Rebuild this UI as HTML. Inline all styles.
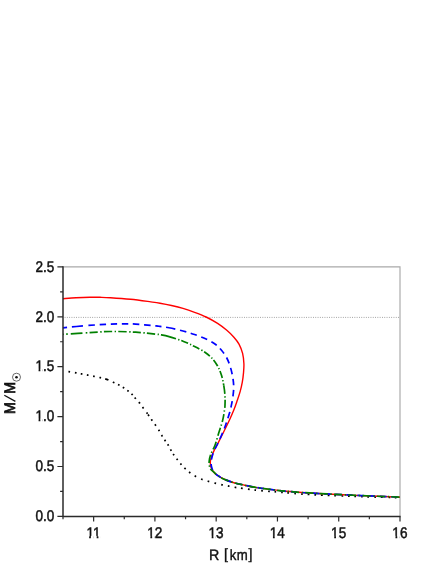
<!DOCTYPE html>
<html><head><meta charset="utf-8"><title>M-R</title>
<style>html,body{margin:0;padding:0;background:#fff}body{width:436px;height:564px;overflow:hidden;font-family:"Liberation Sans",sans-serif}</style></head>
<body>
<svg width="436" height="564" viewBox="0 0 436 564" style="display:block;will-change:transform">
<rect width="436" height="564" fill="#fff"/>
<path d="M63.00,266.90 H400.00 V516.40" fill="none" stroke="#a9a9a9" stroke-width="1.15"/>
<line x1="64.60" y1="317.4" x2="400.00" y2="317.4" stroke="#8e8e8e" stroke-width="0.9" stroke-dasharray="0.9 1.4"/>
<path d="M63.00,370.80 C63.97,370.93 66.78,371.30 68.80,371.60 C70.82,371.90 73.00,372.22 75.10,372.60 C77.20,372.98 79.30,373.48 81.40,373.90 C83.50,374.32 85.58,374.68 87.70,375.10 C89.82,375.52 91.98,375.97 94.10,376.40 C96.22,376.83 98.30,377.20 100.40,377.70 C102.50,378.20 104.60,378.65 106.70,379.40 C108.80,380.15 111.03,381.32 113.00,382.20 C114.97,383.08 116.73,383.78 118.50,384.70 C120.27,385.62 122.00,386.65 123.60,387.70 C125.20,388.75 126.63,389.85 128.10,391.00 C129.57,392.15 131.13,393.33 132.40,394.60 C133.67,395.87 134.52,397.22 135.70,398.60 C136.88,399.98 138.25,401.35 139.50,402.90 C140.75,404.45 141.78,405.98 143.20,407.90 C144.62,409.82 146.65,412.50 148.00,414.40 C149.35,416.30 150.07,417.53 151.30,419.30 C152.53,421.07 154.13,423.17 155.40,425.00 C156.67,426.83 157.82,428.53 158.90,430.30 C159.98,432.07 160.85,433.87 161.90,435.60 C162.95,437.33 164.13,439.10 165.20,440.70 C166.27,442.30 167.33,443.60 168.30,445.20 C169.27,446.80 170.03,448.62 171.00,450.30 C171.97,451.98 173.05,453.75 174.10,455.30 C175.15,456.85 176.17,458.13 177.30,459.60 C178.43,461.07 179.63,462.63 180.90,464.10 C182.17,465.57 183.43,467.00 184.90,468.40 C186.37,469.80 187.93,471.18 189.70,472.50 C191.47,473.82 193.48,475.17 195.50,476.30 C197.52,477.43 199.70,478.47 201.80,479.30 C203.90,480.13 205.92,480.67 208.10,481.30 C210.28,481.93 212.58,482.52 214.90,483.10 C217.22,483.68 219.68,484.30 222.00,484.80 C224.32,485.30 226.57,485.67 228.80,486.10 C231.03,486.53 233.17,487.03 235.40,487.40 C237.63,487.77 238.85,487.85 242.20,488.30 C245.55,488.75 251.05,489.60 255.50,490.10 C259.95,490.60 264.60,490.93 268.90,491.30 C273.20,491.67 276.83,491.92 281.30,492.30 C285.77,492.68 291.23,493.25 295.70,493.60 C300.17,493.95 303.62,494.13 308.10,494.40 C312.58,494.67 313.78,494.83 322.60,495.20 C331.42,495.57 348.10,496.18 361.00,496.60 C373.90,497.02 393.50,497.52 400.00,497.70" fill="none" stroke="#000" stroke-width="1.7" stroke-dasharray="0.00 5.47 1.70 4.86 1.70 4.25 1.70 4.55 1.70 4.67 1.70 4.73 1.70 4.32 3.39 4.82 1.70 4.00 1.70 3.78 1.70 3.89 1.70 3.65 1.70 3.22 1.70 4.56 1.70 4.49 1.70 4.85 1.70 0.84 1.70 4.20 1.70 4.49 1.70 4.81 1.70 4.39 1.70 3.93 1.70 3.78 1.70 4.06 1.70 3.62 1.70 4.24 1.70 4.34 1.70 4.33 1.70 4.46 1.70 5.06 1.70 5.46 1.70 5.25 1.70 5.35 1.70 5.24 1.70 5.05 1.70 5.20 1.70 4.91 1.70 5.21 1.70 4.73 1.70 5.09 1.70 5.31 1.70 4.76 1.70 4.96 1.70 4.48 1.70 5.22 1.70 5.19 1.70 4.85 1.70 5.20 1.70 4.94 1.70 5.09 1.70 4.79 1.70 5.43 1.70 4.64 1.70 4.60 1.70 5.30 1.70 4.61 1.70 5.04 1.70 5.08 1.70 5.72 1.70 4.58 1.70 1000.00"/>
<path d="M63.00,298.70 C65.17,298.54 71.50,297.99 76.00,297.75 C80.50,297.51 86.00,297.32 90.00,297.25 C94.00,297.18 96.58,297.23 100.00,297.30 C103.42,297.38 105.40,297.37 110.50,297.70 C115.60,298.03 123.88,298.61 130.60,299.30 C137.32,299.99 145.90,301.20 150.80,301.85 C155.70,302.50 156.55,302.59 160.00,303.20 C163.45,303.81 167.67,304.63 171.50,305.50 C175.33,306.37 179.15,307.27 183.00,308.40 C186.85,309.53 190.75,310.87 194.60,312.30 C198.45,313.73 202.27,315.15 206.10,317.00 C209.93,318.85 214.15,321.18 217.60,323.40 C221.05,325.62 224.08,328.00 226.80,330.30 C229.52,332.60 231.87,334.90 233.90,337.20 C235.93,339.50 237.55,341.40 239.00,344.10 C240.45,346.80 241.78,350.13 242.60,353.40 C243.42,356.67 243.75,360.45 243.90,363.70 C244.05,366.95 243.77,369.82 243.50,372.90 C243.23,375.98 242.85,379.12 242.30,382.20 C241.75,385.28 241.05,388.33 240.20,391.40 C239.35,394.47 238.25,397.53 237.20,400.60 C236.15,403.67 235.15,406.65 233.90,409.80 C232.65,412.95 231.35,415.92 229.70,419.50 C228.05,423.08 225.90,427.45 224.00,431.30 C222.10,435.15 220.00,439.30 218.30,442.60 C216.60,445.90 215.02,448.50 213.80,451.10 C212.58,453.70 211.58,456.30 211.00,458.20 C210.42,460.10 210.32,461.08 210.30,462.50 C210.28,463.92 210.38,465.17 210.90,466.70 C211.42,468.23 212.27,470.23 213.40,471.70 C214.53,473.17 215.80,474.20 217.70,475.50 C219.60,476.80 221.97,478.25 224.80,479.50 C227.63,480.75 231.40,482.05 234.70,483.00 C238.00,483.95 241.28,484.50 244.60,485.20 C247.92,485.90 251.93,486.72 254.60,487.20 C257.27,487.68 256.15,487.50 260.60,488.10 C265.05,488.70 274.42,490.07 281.30,490.80 C288.18,491.53 293.78,491.95 301.90,492.50 C310.02,493.05 320.10,493.58 330.00,494.10 C339.90,494.62 349.63,495.10 361.30,495.60 C372.97,496.10 393.55,496.85 400.00,497.10" fill="none" stroke="#ff0000" stroke-width="1.4"/>
<path d="M63.00,327.80 C66.70,327.45 78.13,326.27 85.20,325.70 C92.27,325.13 99.52,324.70 105.40,324.40 C111.28,324.10 115.45,323.95 120.50,323.90 C125.55,323.85 129.80,323.77 135.70,324.10 C141.60,324.43 151.85,325.52 155.90,325.90 C159.95,326.28 157.82,326.09 160.00,326.40 C162.18,326.71 165.17,326.98 169.00,327.75" fill="none" stroke="#0000ff" stroke-width="1.7" stroke-dasharray="4.1 4.9 10.9 5.6 6.5 4.65 6.5 4.65 6.5 4.65 6.5 4.65 6.5 4.65 6.5 4.65 6.5 4.65 6.5 4.65 6.5 4.65 6.5 4.65 6.5 4.65 6.5 4.65 6.5 4.65 6.5 4.65 6.5 4.65 6.5 4.65 6.5 4.65 6.5 4.65 6.5 4.65 6.5 4.65 6.5 4.65 6.5 4.65 6.5 4.65 6.5 4.65 6.5 4.65 6.5 4.65 6.5 4.65 6.5 4.65 6.5 4.65 6.5 4.65 6.5 4.65 6.5 4.65 6.5 4.65 6.5 4.65 6.5 4.65 6.5 4.65 6.5 4.65 6.5 4.65 6.5 4.65 6.5 4.65"/>
<path d="M169.00,327.75 C172.83,328.52 178.73,329.88 183.00,331.00 C187.27,332.12 190.75,333.15 194.60,334.50 C198.45,335.85 202.65,337.47 206.10,339.10 C209.55,340.73 212.73,342.43 215.30,344.30 C217.87,346.17 219.58,348.02 221.50,350.30 C223.42,352.58 225.32,355.18 226.80,358.00 C228.28,360.82 229.40,363.93 230.40,367.20 C231.40,370.47 232.25,374.33 232.80,377.60 C233.35,380.87 233.67,383.73 233.70,386.80 C233.73,389.87 233.38,392.93 233.00,396.00 C232.62,399.07 231.98,402.37 231.40,405.20 C230.82,408.03 230.22,410.45 229.50,413.00 C228.78,415.55 227.87,418.17 227.10,420.50 C226.33,422.83 225.88,424.42 224.90,427.00 C223.92,429.58 222.47,433.08 221.20,436.00 C219.93,438.92 218.52,441.98 217.30,444.50 C216.08,447.02 214.83,448.82 213.90,451.10 C212.97,453.38 212.17,456.30 211.70,458.20 C211.23,460.10 211.13,461.08 211.10,462.50 C211.07,463.92 211.12,465.17 211.50,466.70 C211.88,468.23 212.37,470.23 213.40,471.70 C214.43,473.17 215.80,474.20 217.70,475.50 C219.60,476.80 221.97,478.25 224.80,479.50 C227.63,480.75 231.40,482.05 234.70,483.00 C238.00,483.95 241.28,484.50 244.60,485.20 C247.92,485.90 251.93,486.72 254.60,487.20 C257.27,487.68 256.15,487.50 260.60,488.10 C265.05,488.70 274.42,490.07 281.30,490.80 C288.18,491.53 293.78,491.95 301.90,492.50 C310.02,493.05 320.10,493.58 330.00,494.10 C339.90,494.62 349.63,495.10 361.30,495.60 C372.97,496.10 393.55,496.85 400.00,497.10" fill="none" stroke="#0000ff" stroke-width="1.7" stroke-dasharray="6.5 4.65 6.5 4.65 6.5 4.65 6.5 4.65 6.5 4.65 6.5 4.65 6.5 4.65 6.5 4.65 6.5 4.65 6.5 4.65 6.5 4.65 6.5 4.65 6.5 4.65 6.5 4.65 6.5 4.65 6.5 4.65 6.5 4.65 6.5 4.65 6.5 4.65 6.5 4.65 6.5 4.65 6.5 4.65 6.5 4.65 6.5 4.65 6.5 4.65 6.5 4.65 6.5 4.65 6.5 4.65 6.5 4.65 6.5 4.65 6.5 4.65 6.5 4.65 6.5 4.65 6.5 4.65 6.5 4.65 6.5 4.65 6.5 4.65 6.5 4.65 6.5 4.65 6.5 4.65"/>
<path d="M63.00,334.30 C66.70,334.07 77.37,333.37 85.20,332.90 C93.03,332.43 101.58,331.62 110.00,331.50 C118.42,331.38 128.05,331.75 135.70,332.20 C143.35,332.65 151.85,333.78 155.90,334.20 C159.95,334.62 157.82,334.30 160.00,334.70 C162.18,335.10 165.17,335.52 169.00,336.60" fill="none" stroke="#008000" stroke-width="1.7" stroke-dasharray="1 2.3 1.7 2.9 11.5 3.4 1.7 2.3 8.2 2.5 1.4 2.2 8.2 2.5 1.4 2.2 8.2 2.5 1.4 2.2 8.2 2.5 1.4 2.2 8.2 2.5 1.4 2.2 8.2 2.5 1.4 2.2 8.2 2.5 1.4 2.2 8.2 2.5 1.4 2.2 8.2 2.5 1.4 2.2 8.2 2.5 1.4 2.2 8.2 2.5 1.4 2.2 8.2 2.5 1.4 2.2 8.2 2.5 1.4 2.2 8.2 2.5 1.4 2.2 8.2 2.5 1.4 2.2 8.2 2.5 1.4 2.2 8.2 2.5 1.4 2.2 8.2 2.5 1.4 2.2 8.2 2.5 1.4 2.2 8.2 2.5 1.4 2.2 8.2 2.5 1.4 2.2 8.2 2.5 1.4 2.2 8.2 2.5 1.4 2.2 8.2 2.5 1.4 2.2 8.2 2.5 1.4 2.2 8.2 2.5 1.4 2.2 8.2 2.5 1.4 2.2 8.2 2.5 1.4 2.2 8.2 2.5 1.4 2.2 8.2 2.5 1.4 2.2 8.2 2.5 1.4 2.2 8.2 2.5 1.4 2.2 8.2 2.5 1.4 2.2 8.2 2.5 1.4 2.2 8.2 2.5 1.4 2.2 8.2 2.5 1.4 2.2 8.2 2.5 1.4 2.2 8.2 2.5 1.4 2.2 8.2 2.5 1.4 2.2 8.2 2.5 1.4 2.2"/>
<path d="M169.00,336.60 C172.83,337.68 178.73,339.55 183.00,341.20 C187.27,342.85 190.95,344.67 194.60,346.50 C198.25,348.33 202.03,350.28 204.90,352.20 C207.77,354.12 209.68,355.70 211.80,358.00 C213.92,360.30 215.98,363.12 217.60,366.00 C219.22,368.88 220.47,372.03 221.50,375.30 C222.53,378.57 223.22,382.15 223.80,385.60" fill="none" stroke="#008000" stroke-width="1.7" stroke-dasharray="7.3 2.2 1.3 1.95 7.3 2.2 1.3 1.95 7.3 2.2 1.3 1.95 7.3 2.2 1.3 1.95 7.3 2.2 1.3 1.95 7.3 2.2 1.3 1.95 7.3 2.2 1.3 1.95 7.3 2.2 1.3 1.95 7.3 2.2 1.3 1.95 7.3 2.2 1.3 1.95"/>
<path d="M223.80,385.60 C224.38,389.05 224.80,392.73 225.00,396.00 C225.20,399.27 225.08,402.87 225.00,405.20 C224.92,407.53 224.80,407.88 224.50,410.00 C224.20,412.12 223.68,415.57 223.20,417.90 C222.72,420.23 222.40,421.30 221.60,424.00 C220.80,426.70 219.52,430.52 218.40,434.10 C217.28,437.68 216.15,442.18 214.90,445.50 C213.65,448.82 211.85,451.42 210.90,454.00 C209.95,456.58 209.43,459.00 209.20,461.00 C208.97,463.00 209.20,464.58 209.50,466.00 C209.80,467.42 210.35,468.55 211.00,469.50 C211.65,470.45 212.28,470.70 213.40,471.70 C214.52,472.70 215.80,474.20 217.70,475.50 C219.60,476.80 221.97,478.25 224.80,479.50 C227.63,480.75 231.40,482.05 234.70,483.00 C238.00,483.95 241.28,484.50 244.60,485.20 C247.92,485.90 251.93,486.72 254.60,487.20 C257.27,487.68 256.15,487.50 260.60,488.10 C265.05,488.70 274.42,490.07 281.30,490.80 C288.18,491.53 293.78,491.95 301.90,492.50 C310.02,493.05 320.10,493.58 330.00,494.10 C339.90,494.62 349.63,495.10 361.30,495.60 C372.97,496.10 393.55,496.85 400.00,497.10" fill="none" stroke="#008000" stroke-width="1.7" stroke-dasharray="8.2 2.5 1.4 2.2 8.2 2.5 1.4 2.2 8.2 2.5 1.4 2.2 8.2 2.5 1.4 2.2 8.2 2.5 1.4 2.2 8.2 2.5 1.4 2.2 8.2 2.5 1.4 2.2 8.2 2.5 1.4 2.2 8.2 2.5 1.4 2.2 8.2 2.5 1.4 2.2 8.2 2.5 1.4 2.2 8.2 2.5 1.4 2.2 8.2 2.5 1.4 2.2 8.2 2.5 1.4 2.2 8.2 2.5 1.4 2.2 8.2 2.5 1.4 2.2 8.2 2.5 1.4 2.2 8.2 2.5 1.4 2.2 8.2 2.5 1.4 2.2 8.2 2.5 1.4 2.2 8.2 2.5 1.4 2.2 8.2 2.5 1.4 2.2 8.2 2.5 1.4 2.2 8.2 2.5 1.4 2.2 8.2 2.5 1.4 2.2 8.2 2.5 1.4 2.2 8.2 2.5 1.4 2.2 8.2 2.5 1.4 2.2 8.2 2.5 1.4 2.2 8.2 2.5 1.4 2.2 8.2 2.5 1.4 2.2 8.2 2.5 1.4 2.2 8.2 2.5 1.4 2.2 8.2 2.5 1.4 2.2 8.2 2.5 1.4 2.2 8.2 2.5 1.4 2.2 8.2 2.5 1.4 2.2 8.2 2.5 1.4 2.2 8.2 2.5 1.4 2.2 8.2 2.5 1.4 2.2"/>
<path d="M63.00,266.30 V516.40 H400.60" fill="none" stroke="#2b2b2b" stroke-width="1.5"/>
<path d="M63.00,516.40 h-5.60 M63.00,491.45 h-2.90 M63.00,466.50 h-5.60 M63.00,441.55 h-2.90 M63.00,416.60 h-5.60 M63.00,391.65 h-2.90 M63.00,366.70 h-5.60 M63.00,341.75 h-2.90 M63.00,316.80 h-5.60 M63.00,291.85 h-2.90 M63.00,266.90 h-5.60 M63.00,516.40 v2.80 M93.64,516.40 v5.20 M124.27,516.40 v2.80 M154.91,516.40 v5.20 M185.55,516.40 v2.80 M216.18,516.40 v5.20 M246.82,516.40 v2.80 M277.45,516.40 v5.20 M308.09,516.40 v2.80 M338.73,516.40 v5.20 M369.36,516.40 v2.80 M400.00,516.40 v5.20" fill="none" stroke="#2b2b2b" stroke-width="1.2"/>
<g font-family="'Liberation Sans', sans-serif" style="text-rendering:geometricPrecision" font-size="15.4" fill="#111" stroke="#111" stroke-width="0.5">
<g transform="translate(54.3,520.70) scale(0.880,1)"><text text-anchor="end">0.0</text></g>
<g transform="translate(54.3,470.80) scale(0.880,1)"><text text-anchor="end">0.5</text></g>
<g transform="translate(54.3,420.90) scale(0.880,1)"><text text-anchor="end">1.0</text><rect x="-21.71" y="-2.15" width="3.84" height="3.25" fill="#fff" stroke="none"/><rect x="-15.84" y="-2.15" width="2.63" height="3.25" fill="#fff" stroke="none"/></g>
<g transform="translate(54.3,371.00) scale(0.880,1)"><text text-anchor="end">1.5</text><rect x="-21.71" y="-2.15" width="3.84" height="3.25" fill="#fff" stroke="none"/><rect x="-15.84" y="-2.15" width="2.63" height="3.25" fill="#fff" stroke="none"/></g>
<g transform="translate(54.3,321.70) scale(0.880,1)"><text text-anchor="end">2.0</text></g>
<g transform="translate(54.3,271.80) scale(0.880,1)"><text text-anchor="end">2.5</text></g>
<g transform="translate(93.54,538.0) scale(0.880,1)"><text text-anchor="middle">11</text><rect x="-8.86" y="-2.15" width="3.84" height="3.25" fill="#fff" stroke="none"/><rect x="-3.00" y="-2.15" width="2.63" height="3.25" fill="#fff" stroke="none"/><rect x="-0.30" y="-2.15" width="3.84" height="3.25" fill="#fff" stroke="none"/><rect x="5.56" y="-2.15" width="2.63" height="3.25" fill="#fff" stroke="none"/></g>
<g transform="translate(154.81,538.0) scale(0.880,1)"><text text-anchor="middle">12</text><rect x="-8.86" y="-2.15" width="3.84" height="3.25" fill="#fff" stroke="none"/><rect x="-3.00" y="-2.15" width="2.63" height="3.25" fill="#fff" stroke="none"/></g>
<g transform="translate(216.08,538.0) scale(0.880,1)"><text text-anchor="middle">13</text><rect x="-8.86" y="-2.15" width="3.84" height="3.25" fill="#fff" stroke="none"/><rect x="-3.00" y="-2.15" width="2.63" height="3.25" fill="#fff" stroke="none"/></g>
<g transform="translate(277.35,538.0) scale(0.880,1)"><text text-anchor="middle">14</text><rect x="-8.86" y="-2.15" width="3.84" height="3.25" fill="#fff" stroke="none"/><rect x="-3.00" y="-2.15" width="2.63" height="3.25" fill="#fff" stroke="none"/></g>
<g transform="translate(338.63,538.0) scale(0.880,1)"><text text-anchor="middle">15</text><rect x="-8.86" y="-2.15" width="3.84" height="3.25" fill="#fff" stroke="none"/><rect x="-3.00" y="-2.15" width="2.63" height="3.25" fill="#fff" stroke="none"/></g>
<g transform="translate(399.90,538.0) scale(0.880,1)"><text text-anchor="middle">16</text><rect x="-8.86" y="-2.15" width="3.84" height="3.25" fill="#fff" stroke="none"/><rect x="-3.00" y="-2.15" width="2.63" height="3.25" fill="#fff" stroke="none"/></g>
</g>
<g font-family="'Liberation Sans', sans-serif" style="text-rendering:geometricPrecision" font-size="15" fill="#111" stroke="#111" stroke-width="0.4">
<text transform="translate(208.90,559.7) scale(0.950,1)">R</text>
<text transform="translate(224.00,558.8) scale(0.950,1)">[</text>
<text transform="translate(229.70,559.7) scale(0.880,1)">k</text>
<text transform="translate(236.70,559.7) scale(0.880,1)">m</text>
<text transform="translate(248.50,558.8) scale(0.950,1)">]</text>
</g>
<g font-family="'Liberation Sans', sans-serif" style="text-rendering:geometricPrecision" font-size="15.2" fill="#111" stroke="#111" stroke-width="0.8">
<text transform="translate(15.3,413.95) rotate(-90) scale(0.935,1)">M</text>
<text transform="translate(15.3,393.80) rotate(-90) scale(0.935,1)">M</text>
</g>
<line x1="4.3" y1="395.3" x2="15.4" y2="401.4" stroke="#111" stroke-width="1.3"/>
<circle cx="16.5" cy="377.2" r="4.0" fill="none" stroke="#444" stroke-width="0.8"/>
<circle cx="16.5" cy="377.2" r="1.3" fill="#111"/>
</svg>
</body></html>
